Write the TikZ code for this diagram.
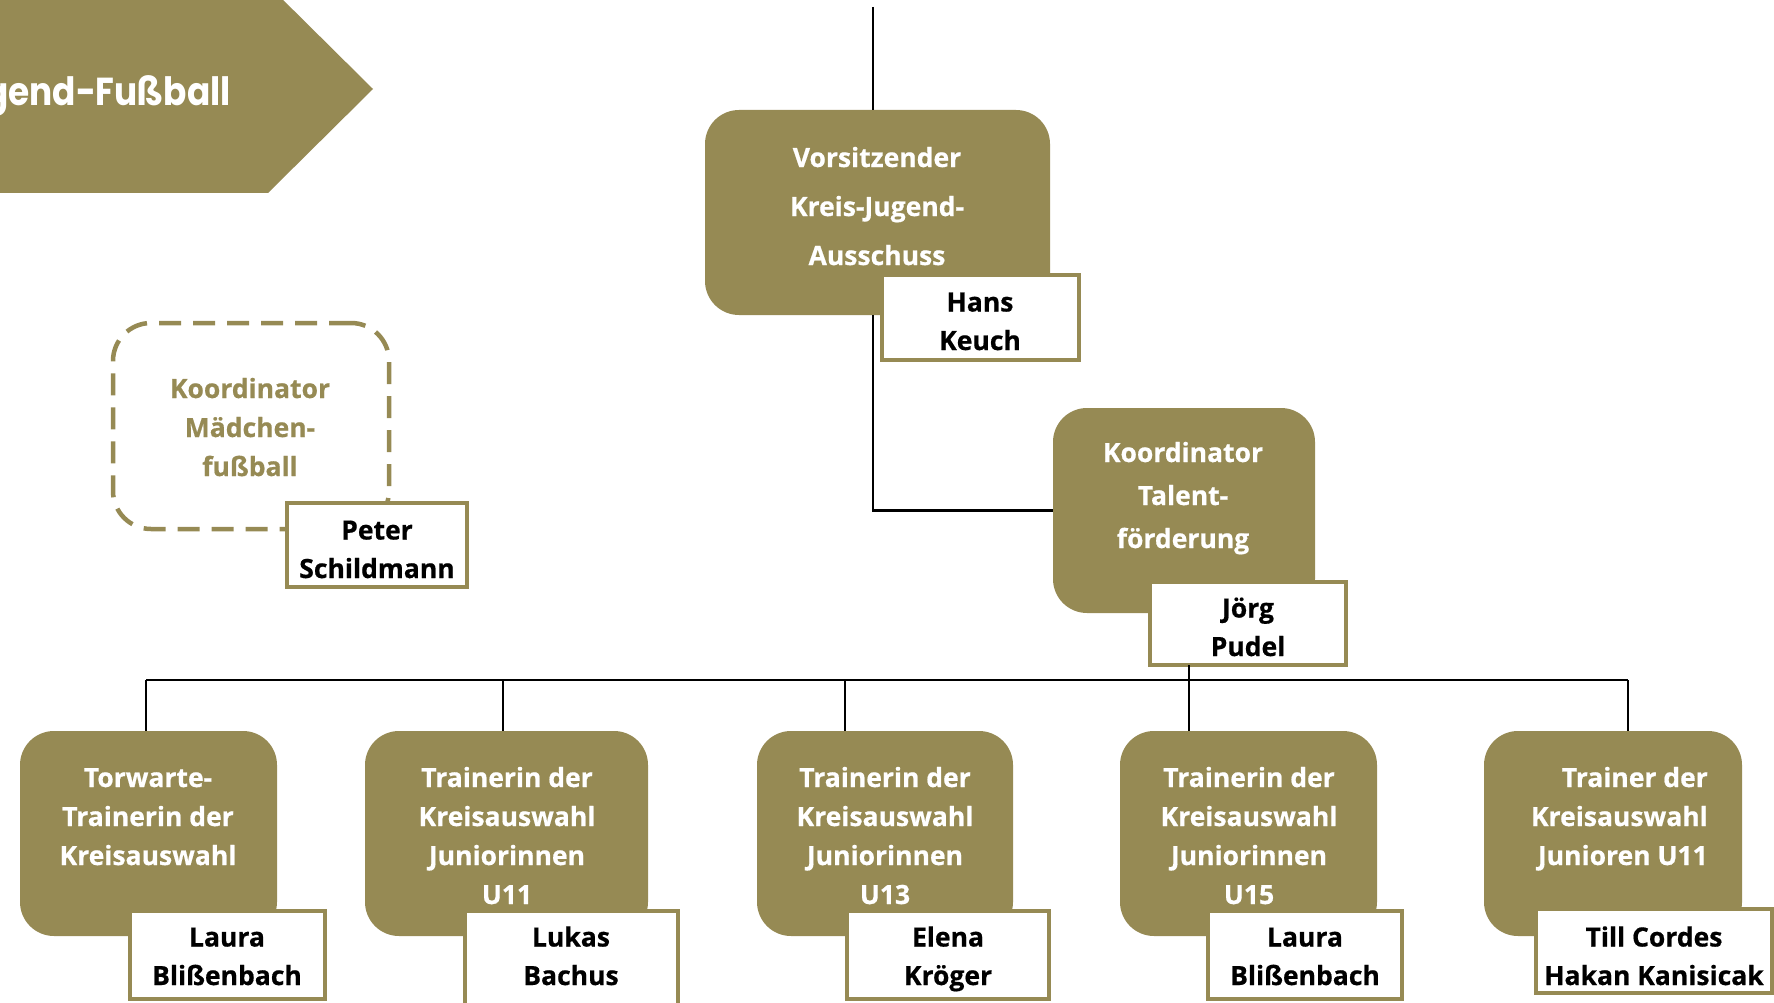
\documentclass[tikz,border=0pt]{standalone}
\usepackage{fontspec}
\setmainfont{Open Sans}[BoldFont={Open Sans Bold}, BoldFeatures={FakeBold=0.6}]
\newfontfamily\bannerfont{Poppins}
\definecolor{olive}{RGB}{150,138,84}
\tikzset{
  bigbox/.style={fill=olive, draw=none, rounded corners=34pt, inner sep=0pt, outer sep=0pt, anchor=north west},
  dashbox/.style={draw=olive, line width=4.5pt, dash pattern=on 22pt off 12pt, rounded corners=38pt, inner sep=0pt, outer sep=0pt, anchor=north west},
  namebox/.style={fill=white, draw=olive, line width=4pt, inner sep=0pt, outer sep=0pt, anchor=north west},
  wtxt/.style={text=white, font=\fontsize{26.5}{39}\selectfont\bfseries, align=center, inner sep=0pt, anchor=base},
  ntxt/.style={text=black, font=\fontsize{26.5}{38.5}\selectfont\bfseries, align=center, inner sep=0pt, anchor=base},
  conn/.style={draw=black, line width=2.2pt},
}
\begin{document}
\begin{tikzpicture}[x=1pt,y=-1pt]
\useasboundingbox (0,0) rectangle (1774,1003);
\clip (0,0) rectangle (1774,1003);
% banner
\fill[olive] (-10,-15) -- (268,-15) -- (373,89) -- (268,193) -- (-10,193) -- cycle;
\node[text=white, font=\bannerfont\fontsize{39}{44}\selectfont\bfseries, anchor=base east, inner sep=0pt] (banner) at (231,106) {\scalebox{0.88}[1]{Jugend-Fußball}};

% boxes
\node[bigbox, minimum width=345pt, minimum height=205pt] (vors) at (705,110) {};
\node[bigbox, minimum width=262pt, minimum height=205pt] (talent) at (1053,408) {};
\node[dashbox, minimum width=276pt, minimum height=206pt] (maed) at (113,323) {};
\node[bigbox, minimum width=257pt, minimum height=205pt] (b1) at (20,731) {};
\node[bigbox, minimum width=283pt, minimum height=205pt] (b2) at (365,731) {};
\node[bigbox, minimum width=256pt, minimum height=205pt] (b3) at (757,731) {};
\node[bigbox, minimum width=257pt, minimum height=205pt] (b4) at (1120,731) {};
\node[bigbox, minimum width=258pt, minimum height=205pt] (b5) at (1484,731) {};

% connectors
\coordinate (topend) at (873,7);
\coordinate (busL) at (146,680);
\coordinate (busR) at (1628,680);
\coordinate (d2) at (503,680);
\coordinate (d3) at (845,680);
\coordinate (d4) at (1189,680);
\draw[conn] (topend) -- (vors.north -| topend);
\draw[conn] (vors.south -| topend) |- (talent.west);
\draw[conn] (busL) -- (busR);
\draw[conn] (busL) -- (b1.north -| busL);
\draw[conn] (d2) -- (b2.north -| d2);
\draw[conn] (d3) -- (b3.north -| d3);
\draw[conn] (busR) -- (b5.north -| busR);

% name boxes
\node[namebox, minimum width=197pt, minimum height=85pt] (hans) at (882,275) {};
\node[namebox, minimum width=196pt, minimum height=83pt] (joerg) at (1150,582) {};
\node[namebox, minimum width=180pt, minimum height=84pt] (peter) at (287,503) {};
\node[namebox, minimum width=195pt, minimum height=88pt] (n1) at (130,911) {};
\node[namebox, minimum width=213pt, minimum height=100pt] (n2) at (465,911) {};
\node[namebox, minimum width=202pt, minimum height=88pt] (n3) at (847,911) {};
\node[namebox, minimum width=194pt, minimum height=88pt] (n4) at (1208,911) {};
\node[namebox, minimum width=236pt, minimum height=84pt] (n5) at (1536,909) {};
\draw[conn] (joerg.south -| d4) -- (b4.north -| d4);

% texts (anchor = baseline of last line)
\node[wtxt, font=\fontsize{26.5}{49}\selectfont\bfseries] (tv) at (877,265) {Vorsitzender\\Kreis-Jugend-\\Ausschuss};
\node[wtxt, font=\fontsize{26.5}{43}\selectfont\bfseries] (tt) at (1183,548) {Koordinator\\Talent-\\förderung};
\node[wtxt, text=olive] (tm) at (250,476) {Koordinator\\Mädchen-\\fußball};
\node[wtxt] (t1) at (148,865) {Torwarte-\\Trainerin der\\Kreisauswahl};
\node[wtxt] (t2) at (507,904) {Trainerin der\\Kreisauswahl\\Juniorinnen\\U11};
\node[wtxt] (t3) at (885,904) {Trainerin der\\Kreisauswahl\\Juniorinnen\\U13};
\node[wtxt] (t4) at (1249,904) {Trainerin der\\Kreisauswahl\\Juniorinnen\\U15};
\node[wtxt, align=right, anchor=base east] (t5) at (1708,865) {Trainer der\\Kreisauswahl\\Junioren U11};

\node[ntxt] (th) at (980,350) {Hans\\Keuch};
\node[ntxt] (tj) at (1248,656) {Jörg\\Pudel};
\node[ntxt] (tp) at (377,578) {Peter\\Schildmann};
\node[ntxt] (tn1) at (227,985) {Laura\\Blißenbach};
\node[ntxt] (tn2) at (571,985) {Lukas\\Bachus};
\node[ntxt] (tn3) at (948,985) {Elena\\Kröger};
\node[ntxt] (tn4) at (1305,985) {Laura\\Blißenbach};
\node[ntxt] (tn5) at (1654,985) {Till Cordes\\Hakan Kanisicak};
\end{tikzpicture}
\end{document}
